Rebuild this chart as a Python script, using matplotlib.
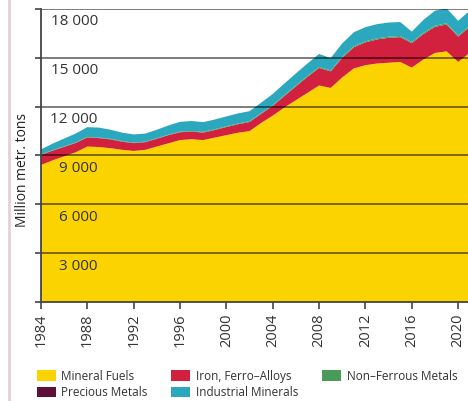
import numpy as np
import matplotlib
matplotlib.use("Agg")
import matplotlib.pyplot as plt
from matplotlib.patches import Patch
from matplotlib.lines import Line2D

plt.rcParams['font.family'] = ['Open Sans', 'DejaVu Sans']

years = np.arange(1984, 2022)

mineral_fuels = [8420, 8700, 8950, 9200, 9550, 9520, 9450, 9350, 9280, 9350,
                 9550, 9750, 9950, 10000, 9950, 10100, 10250, 10400, 10500, 11000,
                 11450, 11950, 12400, 12850, 13300, 13150, 13800, 14350, 14550, 14650,
                 14700, 14750, 14400, 14900, 15300, 15400, 14750, 15300]
iron_ferro = [620, 600, 580, 570, 560, 550, 540, 500, 480, 470,
              480, 500, 480, 470, 460, 470, 500, 520, 560, 560,
              600, 700, 850, 980, 1080, 1020, 1200, 1300, 1400, 1480,
              1530, 1520, 1500, 1560, 1600, 1650, 1550, 1600]
non_ferrous = [30, 30, 31, 32, 33, 34, 34, 34, 34, 35,
               35, 37, 38, 39, 40, 41, 43, 44, 45, 47,
               50, 52, 54, 56, 57, 55, 60, 63, 65, 68,
               70, 70, 71, 72, 74, 75, 74, 78]
precious = [0.02] * 38
industrial = [300, 400, 480, 550, 600, 610, 560, 520, 500, 490,
              520, 560, 600, 610, 600, 600, 610, 620, 620, 640,
              680, 720, 740, 770, 800, 760, 830, 860, 870, 870,
              870, 860, 640, 800, 920, 920, 900, 920]

series = [mineral_fuels, iron_ferro, non_ferrous, precious, industrial]
labels = ["Mineral Fuels", "Iron, Ferro\u2013Alloys", "Non\u2013Ferrous Metals",
          "Precious Metals", "Industrial Minerals"]
colors = ["#fbd400", "#d2203f", "#4a9a5a", "#5e0f3c", "#2ba8be"]

yticks = [3000, 6000, 9000, 12000, 15000, 18000]
xticks = list(range(1984, 2021, 4))

fig = plt.figure(figsize=(4.68, 4.01), dpi=100)
ax = fig.add_axes([41/468, 1 - 302/401, 1 - 41/468, 293/401])

ax.stackplot(years, *series, colors=colors, linewidth=0, zorder=1)

for v in yticks:
    ax.axhline(v, color="black", alpha=0.55, lw=1.3, zorder=3)
    ax.text(1988.9, v - 330, f"{v:,}".replace(",", " "), ha="right", va="top",
            fontsize=11, color="#333333", zorder=4)

ax.set_xlim(1984, 2020.85)
ax.set_ylim(0, 18000)
ax.set_yticks(yticks + [0])
ax.set_yticklabels([])
ax.set_xticks(xticks)
ax.set_xticklabels([str(y) for y in xticks], rotation=90, fontsize=10.5, color="#333333")
ax.tick_params(axis="y", length=4, width=1.2, color="#444444", pad=2)
ax.tick_params(axis="x", length=5, width=1.2, color="#444444", pad=3)

for s in ["top", "right"]:
    ax.spines[s].set_visible(False)
for s in ["left", "bottom"]:
    ax.spines[s].set_color("#444444")
    ax.spines[s].set_linewidth(1.3)
    ax.spines[s].set_zorder(5)

fig.text(23/468, 1 - 170/401, "Million metr. tons", rotation=90, ha="center", va="center",
         fontsize=10, color="#222222")

# pink page rule on the left
fig.add_artist(Line2D([9/468, 9/468], [0, 1], transform=fig.transFigure,
                      color="#e9cfd8", lw=2))

order = [0, 3, 1, 4, 2]
handles = [Patch(facecolor=colors[i], edgecolor="none") for i in order]
fig.legend(handles, [labels[i] for i in order], ncol=3, loc="upper left",
           bbox_to_anchor=(26/468, 1 - 359/401), frameon=False, fontsize=8.5,
           handlelength=1.6, handleheight=1.0, handletextpad=0.5,
           columnspacing=2.0, labelspacing=0.3, labelcolor="#333333")

fig.savefig("out.png", dpi=100)
